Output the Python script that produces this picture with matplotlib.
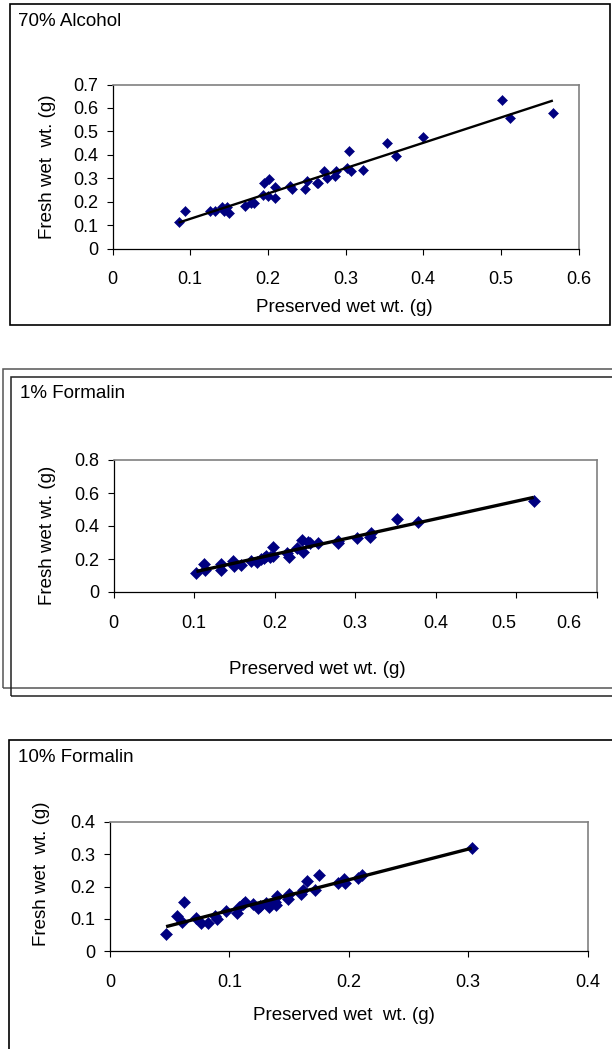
import numpy as np
import matplotlib
matplotlib.use("Agg")
import matplotlib.pyplot as plt
from matplotlib.patches import Rectangle
from matplotlib.transforms import ScaledTranslation

plt.rcParams['font.family'] = ['Liberation Sans', 'DejaVu Sans']

# 70% Alcohol
alc_x = [0.085, 0.093, 0.126, 0.132, 0.141, 0.144, 0.148, 0.150, 0.170, 0.178, 0.182,
         0.194, 0.195, 0.201, 0.200, 0.209, 0.209, 0.229, 0.231, 0.248, 0.250, 0.263,
         0.265, 0.272, 0.276, 0.286, 0.288, 0.302, 0.304, 0.307, 0.322, 0.353, 0.365,
         0.400, 0.502, 0.512, 0.567]
alc_y = [0.112, 0.161, 0.159, 0.158, 0.176, 0.161, 0.176, 0.152, 0.180, 0.193, 0.194,
         0.227, 0.281, 0.295, 0.226, 0.262, 0.214, 0.267, 0.253, 0.253, 0.289, 0.280,
         0.279, 0.330, 0.300, 0.311, 0.330, 0.344, 0.418, 0.329, 0.335, 0.450, 0.396,
         0.477, 0.632, 0.557, 0.578]

# 1% Formalin
f1_x = [0.103, 0.113, 0.114, 0.133, 0.134, 0.149, 0.150, 0.158, 0.171, 0.178, 0.183,
        0.187, 0.190, 0.195, 0.198, 0.198, 0.215, 0.218, 0.228, 0.234, 0.236, 0.242,
        0.244, 0.254, 0.279, 0.279, 0.303, 0.319, 0.320, 0.352, 0.378, 0.522]
f1_y = [0.117, 0.170, 0.136, 0.167, 0.133, 0.188, 0.158, 0.162, 0.187, 0.184, 0.197,
        0.205, 0.220, 0.214, 0.275, 0.216, 0.237, 0.214, 0.268, 0.315, 0.245, 0.303,
        0.296, 0.295, 0.308, 0.294, 0.328, 0.333, 0.356, 0.445, 0.424, 0.552]

# 10% Formalin
f10_x = [0.047, 0.056, 0.060, 0.062, 0.072, 0.076, 0.082, 0.088, 0.090, 0.097, 0.106,
         0.108, 0.111, 0.113, 0.120, 0.124, 0.126, 0.131, 0.133, 0.138, 0.139, 0.140,
         0.149, 0.150, 0.160, 0.162, 0.165, 0.172, 0.175, 0.191, 0.196, 0.197, 0.208,
         0.211, 0.303]
f10_y = [0.054, 0.108, 0.090, 0.153, 0.103, 0.088, 0.088, 0.108, 0.100, 0.125, 0.118,
         0.136, 0.145, 0.153, 0.147, 0.133, 0.141, 0.149, 0.137, 0.151, 0.142, 0.169,
         0.161, 0.177, 0.176, 0.189, 0.217, 0.190, 0.236, 0.210, 0.222, 0.210, 0.225,
         0.235, 0.320]

W, H = 612, 1049
fig = plt.figure(figsize=(W / 100, H / 100), dpi=100)
TXT = 13.5   # titles and axis labels
TICK = 13


def frame(l, t, r, b, color, lw):
    fig.patches.append(Rectangle((l / W, 1 - b / H), (r - l) / W, (b - t) / H,
                                 transform=fig.transFigure, fill=False,
                                 edgecolor=color, linewidth=lw))


def panel(box, xs, ys, xmax, xstep, ymax, ystep, ms, lw):
    l, t, r, b = box
    ax = fig.add_axes([l / W, 1 - b / H, (r - l) / W, (b - t) / H])
    ax.plot(xs, ys, linestyle='none', marker='D', ms=ms, color='#000080',
            markeredgewidth=0.4, zorder=3)
    # linear trendline
    k, c = np.polyfit(xs, ys, 1)
    xl = np.array([min(xs), max(xs)])
    ax.plot(xl, k * xl + c, color='black', lw=lw, solid_capstyle='butt', zorder=4)
    xt = np.round(np.arange(0, xmax + 1e-9, xstep), 2)
    yt = np.round(np.arange(0, ymax + 1e-9, ystep), 2)
    ax.set_xlim(0, xmax)
    ax.set_ylim(0, ymax)
    ax.set_xticks(xt)
    ax.set_xticklabels([f'{v:g}' for v in xt])
    ax.set_yticks(yt)
    ax.set_yticklabels([f'{v:g}' for v in yt])
    ax.tick_params(axis='x', direction='out', length=4.5, width=0.8, pad=12, labelsize=TICK)
    ax.tick_params(axis='y', direction='out', length=4.5, width=0.8, pad=6, labelsize=TICK)
    for s in ('top', 'right'):
        ax.spines[s].set_color('#808080')
        ax.spines[s].set_linewidth(1.2)
    for s in ('left', 'bottom'):
        ax.spines[s].set_color('black')
        ax.spines[s].set_linewidth(0.9)
    return ax


def ftext(x, y, s, **kw):
    fig.text(x / W, 1 - y / H, s, fontsize=TXT, va='center', **kw)


# --- 70% Alcohol ---
frame(10, 4, 610, 325, 'black', 1.2)
panel((112.5, 84.5, 578.5, 248.5), alc_x, alc_y, 0.6, 0.1, 0.7, 0.1, 5.4, 1.7)
ftext(18, 22, '70% Alcohol', ha='left')
ftext(48, 167, 'Fresh wet  wt. (g)', ha='center', rotation=90)
ftext(344, 308, 'Preserved wet wt. (g)', ha='center')

# --- 1% Formalin ---
frame(3, 369, 640, 688, '#555555', 1.1)
frame(11, 377, 640, 696, '#222222', 1.1)
ax2 = panel((113.5, 460, 596.5, 592), f1_x, f1_y, 0.6, 0.1, 0.8, 0.2, 6.0, 2.4)
for lab in ax2.get_xticklabels():
    shift = {'0.5': -12, '0.6': -28}.get(lab.get_text())
    if shift:
        lab.set_transform(lab.get_transform() + ScaledTranslation(shift / 100, 0, fig.dpi_scale_trans))
ftext(20, 394, '1% Formalin', ha='left')
ftext(48, 535, 'Fresh wet wt. (g)', ha='center', rotation=90)
ftext(317, 670, 'Preserved wet wt. (g)', ha='center')

# --- 10% Formalin ---
frame(9, 740, 640, 1070, 'black', 1.2)
panel((110, 822, 587.5, 951), f10_x, f10_y, 0.4, 0.1, 0.4, 0.1, 6.0, 2.4)
ftext(18, 757, '10% Formalin', ha='left')
ftext(41, 874, 'Fresh wet  wt. (g)', ha='center', rotation=90)
ftext(344, 1016, 'Preserved wet  wt. (g)', ha='center')

fig.savefig('out.png', dpi=100)
